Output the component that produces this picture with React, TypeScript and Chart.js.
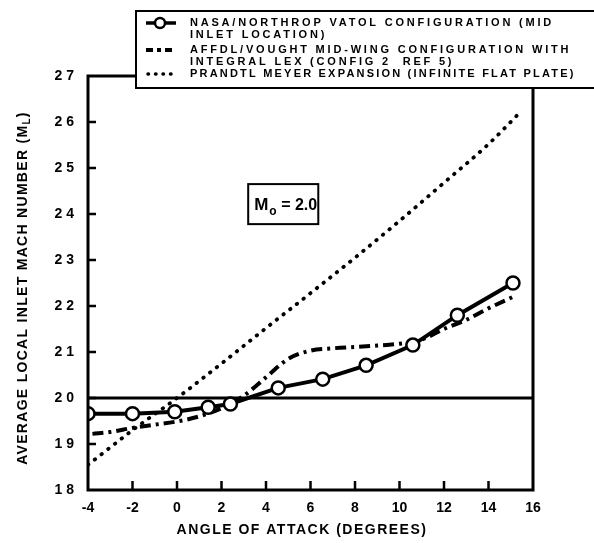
import React, { useEffect, useRef } from 'react';
import { Chart, registerables } from 'chart.js';

Chart.register(...registerables);

// ---- data ----
const nasaAlpha = [-4, -2, -0.1, 1.4, 2.4, 4.55, 6.55, 8.5, 10.6, 12.6, 15.1];
const nasaMach = [1.966, 1.966, 1.97, 1.98, 1.987, 2.022, 2.041, 2.071, 2.115, 2.18, 2.25];

const affdlAlpha = [-3.8, -3, -2, -1, 0, 1, 2, 3, 4, 5, 6, 7, 8, 9, 10, 11, 12, 13, 14, 15.2];
const affdlMach = [1.922, 1.926, 1.935, 1.942, 1.949, 1.96, 1.978, 2.005, 2.045, 2.085, 2.103, 2.108, 2.111, 2.114, 2.118, 2.127, 2.15, 2.17, 2.195, 2.222];

const pmAlpha = [-4, -2, 0, 2, 4, 6, 8, 10, 12, 14, 15.4];
const pmMach = [1.855, 1.93, 2.0, 2.075, 2.152, 2.228, 2.305, 2.385, 2.468, 2.552, 2.62];

const refAlpha = [-4, 16];
const refMach = [2.0, 2.0];

const xTickValues = [-4, -2, 0, 2, 4, 6, 8, 10, 12, 14, 16];
const xTickLabels = ['-4', '-2', '0', '2', '4', '6', '8', '10', '12', '14', '16'];
const yTickValues = [1.8, 1.9, 2.0, 2.1, 2.2, 2.3, 2.4, 2.5, 2.6, 2.7];
const yTickLabels = ['1 8', '1 9', '2 0', '2 1', '2 2', '2 3', '2 4', '2 5', '2 6', '2 7'];

const legendNasa = ['NASA/NORTHROP VATOL CONFIGURATION (MID', 'INLET LOCATION)'];
const legendAffdl = ['AFFDL/VOUGHT MID-WING CONFIGURATION WITH', 'INTEGRAL LEX (CONFIG 2  REF 5)'];
const legendPm = ['PRANDTL MEYER EXPANSION (INFINITE FLAT PLATE)'];

const xTitle = 'ANGLE OF ATTACK (DEGREES)';
const yTitleMain = 'AVERAGE LOCAL INLET MACH NUMBER (M';
const yTitleSub = 'L';
const machLabel = ['M', 'o', ' = 2.0'];
const machBoxAlpha = [3.2, 6.35];
const machBoxMach = [2.378, 2.465];

const FONT = '"Liberation Sans", Arial, Helvetica, sans-serif';

const framePlugin = {
  id: 'framePlugin',
  afterDraw(chart: any) {
    const ctx = chart.ctx as CanvasRenderingContext2D;
    const { left, right, top, bottom } = chart.chartArea;
    const xs = chart.scales.x;
    const ys = chart.scales.y;
    ctx.save();
    ctx.strokeStyle = '#000';
    ctx.fillStyle = '#000';
    // frame
    ctx.lineWidth = 3;
    ctx.strokeRect(left, top, right - left, bottom - top);
    // inner ticks
    ctx.lineWidth = 2.5;
    ctx.beginPath();
    yTickValues.forEach((v) => {
      if (v <= 1.8 || v >= 2.7) return;
      const py = ys.getPixelForValue(v);
      ctx.moveTo(left, py);
      ctx.lineTo(left + 8, py);
    });
    xTickValues.forEach((v) => {
      if (v <= -4 || v >= 16) return;
      const px = xs.getPixelForValue(v);
      ctx.moveTo(px, bottom);
      ctx.lineTo(px, bottom - 9);
    });
    ctx.stroke();

    // Mach box
    const bx0 = xs.getPixelForValue(machBoxAlpha[0]);
    const bx1 = xs.getPixelForValue(machBoxAlpha[1]);
    const by0 = ys.getPixelForValue(machBoxMach[1]);
    const by1 = ys.getPixelForValue(machBoxMach[0]);
    ctx.fillStyle = '#fff';
    ctx.fillRect(bx0, by0, bx1 - bx0, by1 - by0);
    ctx.lineWidth = 2;
    ctx.strokeRect(bx0, by0, bx1 - bx0, by1 - by0);
    ctx.fillStyle = '#000';
    ctx.textBaseline = 'alphabetic';
    ctx.textAlign = 'left';
    let tx = bx0 + 6;
    const tb = (by0 + by1) / 2 + 6;
    ctx.font = `bold 17px ${FONT}`;
    ctx.fillText(machLabel[0], tx, tb);
    tx += ctx.measureText(machLabel[0]).width + 1;
    ctx.font = `bold 12px ${FONT}`;
    ctx.fillText(machLabel[1], tx, tb + 5);
    tx += ctx.measureText(machLabel[1]).width;
    ctx.font = `bold 16px ${FONT}`;
    ctx.fillText(machLabel[2], tx, tb);

    // legend box
    const lx = 136, ly = 11, lb = 88;
    ctx.fillStyle = '#fff';
    ctx.fillRect(lx, ly, chart.width - lx + 10, lb - ly);
    ctx.lineWidth = 2;
    ctx.strokeRect(lx, ly, chart.width - lx + 10, lb - ly);
    // samples
    ctx.strokeStyle = '#000';
    ctx.lineWidth = 3.5;
    ctx.setLineDash([]);
    ctx.beginPath();
    ctx.moveTo(146, 23);
    ctx.lineTo(176, 23);
    ctx.stroke();
    ctx.beginPath();
    ctx.arc(160, 23, 5, 0, Math.PI * 2);
    ctx.fillStyle = '#fff';
    ctx.fill();
    ctx.lineWidth = 2.5;
    ctx.stroke();
    ctx.lineWidth = 4;
    ctx.setLineDash([7, 4, 4, 4]);
    ctx.beginPath();
    ctx.moveTo(146, 50);
    ctx.lineTo(176, 50);
    ctx.stroke();
    ctx.lineCap = 'round';
    ctx.lineWidth = 3.5;
    ctx.setLineDash([0.5, 7]);
    ctx.beginPath();
    ctx.moveTo(148, 74);
    ctx.lineTo(176, 74);
    ctx.stroke();
    ctx.setLineDash([]);
    ctx.lineCap = 'butt';
    // legend text
    ctx.fillStyle = '#000';
    ctx.font = `bold 11px ${FONT}`;
    (ctx as any).letterSpacing = '2.8px';
    ctx.textBaseline = 'middle';
    ctx.fillText(legendNasa[0], 190, 23);
    ctx.fillText(legendNasa[1], 190, 35);
    ctx.fillText(legendAffdl[0], 190, 50);
    ctx.fillText(legendAffdl[1], 190, 62);
    (ctx as any).letterSpacing = '2.2px';
    ctx.fillText(legendPm[0], 190, 74);

    // axis titles
    ctx.font = `bold 14px ${FONT}`;
    (ctx as any).letterSpacing = '1.5px';
    ctx.textAlign = 'center';
    ctx.textBaseline = 'middle';
    ctx.fillText(xTitle, 302, 530);

    ctx.save();
    ctx.translate(23, 288);
    ctx.rotate(-Math.PI / 2);
    (ctx as any).letterSpacing = '1.3px';
    const wMain = ctx.measureText(yTitleMain).width;
    ctx.font = `bold 10px ${FONT}`;
    const wSub = ctx.measureText(yTitleSub).width;
    ctx.font = `bold 14px ${FONT}`;
    const wEnd = ctx.measureText(')').width;
    const total = wMain + wSub + wEnd;
    ctx.textAlign = 'left';
    let p = -total / 2;
    ctx.fillText(yTitleMain, p, 0);
    p += wMain;
    ctx.font = `bold 10px ${FONT}`;
    ctx.fillText(yTitleSub, p, 4);
    p += wSub;
    ctx.font = `bold 14px ${FONT}`;
    ctx.fillText(')', p, 0);
    ctx.restore();

    ctx.restore();
  },
};

export default function App() {
  const ref = useRef<HTMLCanvasElement | null>(null);
  useEffect(() => {
    if (!ref.current) return;
    const tickFont = { family: FONT, size: 14, weight: 'bold' as const };
    const chart = new Chart(ref.current, {
      type: 'line',
      data: {
        datasets: [
          {
            label: 'NASA',
            data: nasaAlpha.map((a, i) => ({ x: a, y: nasaMach[i] })),
            borderColor: '#000',
            borderWidth: 4,
            pointRadius: 6.5,
            pointBackgroundColor: '#fff',
            pointBorderColor: '#000',
            pointBorderWidth: 2.5,
            tension: 0,
            order: 0,
          },
          {
            label: 'AFFDL',
            data: affdlAlpha.map((a, i) => ({ x: a, y: affdlMach[i] })),
            borderColor: '#000',
            borderWidth: 4,
            borderDash: [11, 5, 3, 5],
            pointRadius: 0,
            cubicInterpolationMode: 'monotone',
            order: 1,
          },
          {
            label: 'PM',
            data: pmAlpha.map((a, i) => ({ x: a, y: pmMach[i] })),
            borderColor: '#000',
            borderWidth: 3.8,
            borderDash: [0.5, 8],
            borderCapStyle: 'round',
            pointRadius: 0,
            cubicInterpolationMode: 'monotone',
            order: 2,
          },
          {
            label: 'ref',
            data: refAlpha.map((a, i) => ({ x: a, y: refMach[i] })),
            borderColor: '#000',
            borderWidth: 3,
            pointRadius: 0,
            order: 3,
          },
        ],
      },
      options: {
        animation: false,
        responsive: false,
        maintainAspectRatio: false,
        layout: { padding: { top: 76, right: 61, bottom: 0, left: 0 } },
        plugins: { legend: { display: false }, tooltip: { enabled: false } },
        scales: {
          x: {
            type: 'linear',
            min: -4,
            max: 16,
            afterBuildTicks: (s: any) => {
              s.ticks = xTickValues.map((v) => ({ value: v }));
            },
            afterFit: (s: any) => {
              s.height = 53;
            },
            ticks: {
              callback: (_v: any, i: number) => xTickLabels[i],
              font: tickFont,
              color: '#000',
              padding: 10,
              maxRotation: 0,
              autoSkip: false,
            },
            grid: { display: false, drawTicks: false },
            border: { display: false },
          },
          y: {
            type: 'linear',
            min: 1.8,
            max: 2.7,
            afterBuildTicks: (s: any) => {
              s.ticks = yTickValues.map((v) => ({ value: v }));
            },
            afterFit: (s: any) => {
              s.width = 88;
            },
            ticks: {
              callback: (_v: any, i: number) => yTickLabels[i],
              font: tickFont,
              color: '#000',
              padding: 14,
              autoSkip: false,
            },
            grid: { display: false, drawTicks: false },
            border: { display: false },
          },
        },
      } as any,
      plugins: [framePlugin],
    });
    return () => chart.destroy();
  }, []);
  return (
    <div style={{ position: 'absolute', left: 0, top: 0, width: 594, height: 543, background: '#fff' }}>
      <canvas ref={ref} width={594} height={543} style={{ display: 'block' }} />
    </div>
  );
}
